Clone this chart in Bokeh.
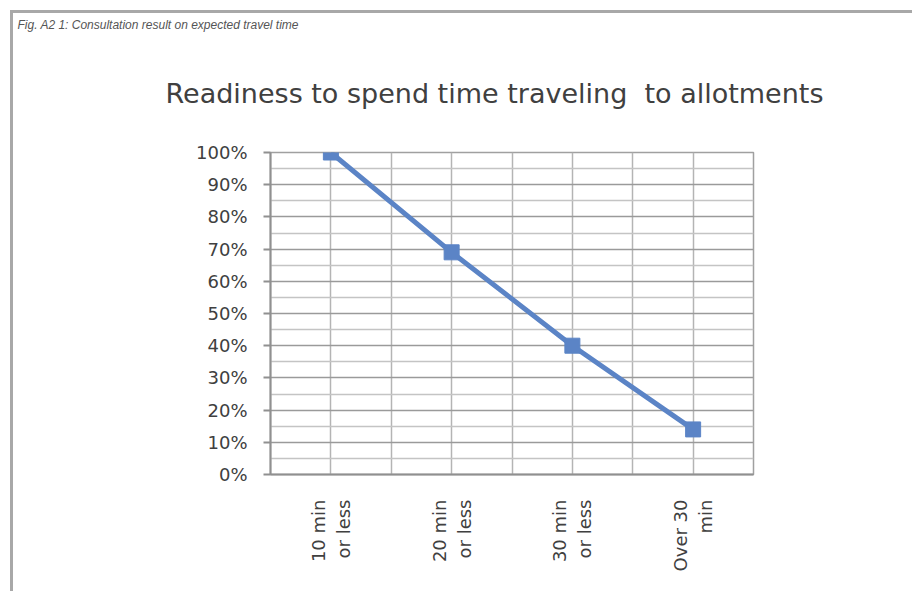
import math
from bokeh.plotting import figure
from bokeh.models import FixedTicker, Title, NumeralTickFormatter
from bokeh.embed import file_html
from bokeh.resources import INLINE

# ---- data ----
categories = ["10 min\nor less", "20 min\nor less", "30 min\nor less", "Over 30\nmin"]
values = [1.00, 0.69, 0.40, 0.14]
y_ticks = [0.0, 0.1, 0.2, 0.3, 0.4, 0.5, 0.6, 0.7, 0.8, 0.9, 1.0]
title_text = "Readiness to spend time traveling \u00a0to allotments"
caption_text = "Fig. A2 1: Consultation result on expected travel time"

n = len(categories)
x = [i + 0.5 for i in range(n)]
boundaries = [float(i) for i in range(n + 1)]
y_minor = [t + 0.05 for t in y_ticks[:-1]]

FONT = "DejaVu Sans"
TXT = "#404040"
BLUE = "#5b84c6"

p = figure(width=902, height=581, x_range=(0, n), y_range=(0, 1),
           output_backend="svg", toolbar_location=None,
           min_border_left=257, min_border_right=162,
           min_border_top=139, min_border_bottom=120)

# chart box edge (left and top), as in the source image
p.styles = {"margin-left": "10px", "margin-top": "10px",
            "border-left": "3px solid #a8a8a8", "border-top": "3px solid #a8a8a8"}

p.background_fill_color = "white"
p.border_fill_color = "white"
p.outline_line_color = "#a0a0a0"
p.outline_line_width = 1.5

# figure caption (cropped off in the source image; shown small at top-left)
p.title.text = caption_text
p.title.align = "left"
p.title.offset = -253
p.title.text_font = "Liberation Sans"
p.title.text_font_style = "italic"
p.title.text_font_size = "12px"
p.title.text_color = "#555555"
p.title.standoff = 0

# chart title (nearest the plot frame)
p.add_layout(Title(text=title_text, align="left", offset=-105,
                   text_font=FONT, text_font_size="27px", text_font_style="normal",
                   text_color=TXT, standoff=88), "above")

# x axis
p.xaxis.ticker = FixedTicker(ticks=x, minor_ticks=boundaries)
p.xaxis.major_label_overrides = {xi: c for xi, c in zip(x, categories)}
p.xaxis.major_label_orientation = math.pi / 2
p.xaxis.major_label_text_font = FONT
p.xaxis.major_label_text_font_size = "18px"
p.xaxis.major_label_text_color = TXT
p.xaxis.major_label_standoff = 19
p.xaxis.major_tick_line_color = None
p.xaxis.minor_tick_line_color = None
p.xaxis.axis_line_color = "#909090"
p.xaxis.axis_line_width = 2

# y axis
p.yaxis.ticker = FixedTicker(ticks=y_ticks, minor_ticks=y_minor)
p.yaxis.formatter = NumeralTickFormatter(format="0%")
p.yaxis.major_label_text_font = FONT
p.yaxis.major_label_text_font_size = "18px"
p.yaxis.major_label_text_color = TXT
p.yaxis.major_label_standoff = 16
p.yaxis.major_tick_in = 0
p.yaxis.major_tick_out = 7
p.yaxis.major_tick_line_color = "#909090"
p.yaxis.major_tick_line_width = 2
p.yaxis.minor_tick_line_color = None
p.yaxis.axis_line_color = "#909090"
p.yaxis.axis_line_width = 2

# grids
p.xgrid.grid_line_color = "#b4b4b4"
p.xgrid.grid_line_width = 1.5
p.xgrid.minor_grid_line_color = "#b4b4b4"
p.xgrid.minor_grid_line_width = 1.5
p.ygrid.grid_line_color = "#9a9a9a"
p.ygrid.grid_line_width = 1.5
p.ygrid.minor_grid_line_color = "#c4c4c4"
p.ygrid.minor_grid_line_width = 1.5

# series
p.line(x, values, line_color=BLUE, line_width=5)
p.scatter(x, values, marker="square", size=15, fill_color=BLUE, line_color=BLUE)

open("out.html", "w").write(file_html(p, INLINE))
